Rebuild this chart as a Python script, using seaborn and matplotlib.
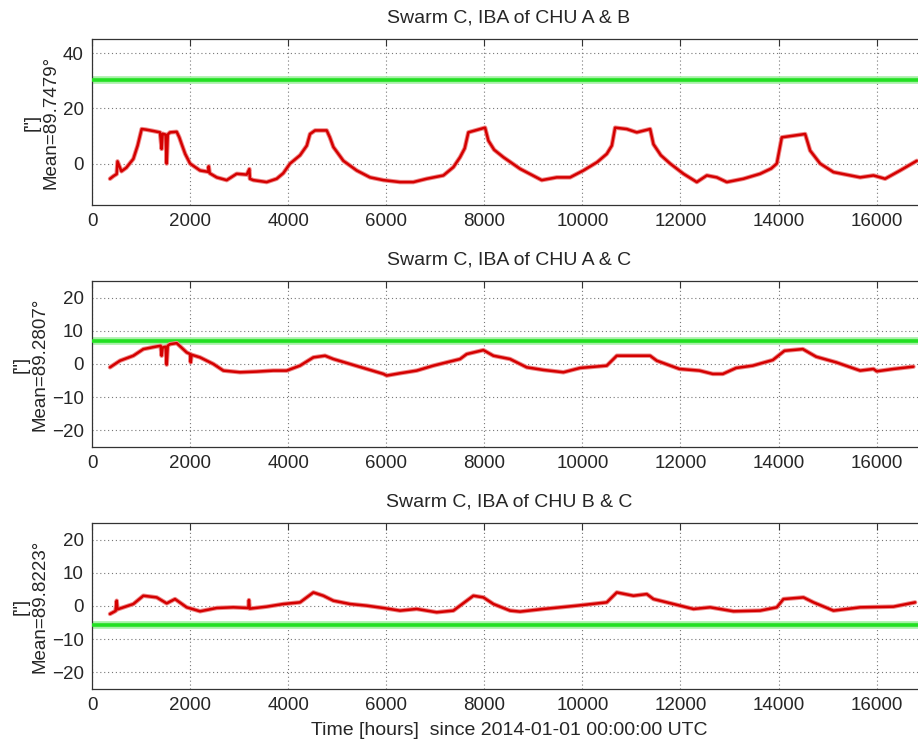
import numpy as np
import pandas as pd
import matplotlib
matplotlib.use("Agg")
import matplotlib.pyplot as plt
import seaborn as sns

# ---- data ----
hours_ab = [367, 440, 503, 520, 600, 700, 843, 930, 1013, 1100, 1250, 1387, 1420, 1440, 1500, 1523, 1545, 1590,
            1727, 1780, 1829, 1900, 2000, 2203, 2373, 2380, 2400, 2543, 2747, 2950, 3154, 3209, 3220, 3290, 3562,
            3766, 3900, 4038, 4242, 4380, 4446, 4548, 4786, 4850, 4922, 5126, 5398, 5670, 5942, 6281, 6553, 6825, 7165,
            7369, 7505, 7600, 7675, 8015, 8083, 8200, 8389, 8729, 9171, 9477, 9749, 10021, 10300, 10497, 10600, 10667, 10905,
            11109, 11381, 11449, 11600, 11789, 12061, 12333, 12537, 12741, 12945, 13284, 13624, 13850, 13964, 14066,
            14542, 14644, 14848, 15120, 15664, 15935, 16173, 16479, 16819]
iba_ab = [-5.5, -4.5, -3.8, 0.8, -2.8, -1.5, 1.7, 6.5, 12.5, 12.3, 11.8, 11.3, 5.3, 10.8, 10.5, 0.0, 10.5, 11.3,
          11.5, 9.5, 7.0, 3.5, 0.0, -2.5, -3.0, -1.0, -3.5, -5.0, -6.0, -3.7, -4.0, -2.0, -5.5, -6.0, -6.7,
          -5.5, -3.5, 0.0, 3.0, 6.5, 10.7, 12.0, 12.0, 9.5, 6.0, 1.0, -2.5, -5.0, -6.0, -6.7, -6.7, -5.5, -4.3,
          -1.3, 2.3, 5.5, 11.3, 13.0, 8.3, 5.0, 2.3, -1.9, -6.0, -5.0, -5.0, -2.5, 0.5, 3.5, 6.5, 13.0, 12.5,
          11.3, 12.5, 7.0, 3.0, 0.0, -3.7, -6.7, -4.3, -5.0, -6.7, -5.5, -3.7, -1.8, 0.0, 9.5,
          10.7, 4.7, 0.0, -3.1, -5.0, -4.3, -5.5, -2.5, 1.0]

hours_ac = [367, 571, 843, 1047, 1319, 1400, 1420, 1440, 1500, 1523, 1545, 1590, 1727, 1931, 2000, 2013, 2030,
            2203, 2475, 2679, 3018, 3358, 3698, 3970, 4242, 4514, 4752, 4922, 5262, 5602, 5942, 6010,
            6281, 6621, 6961, 7505, 7641, 7981, 8185, 8525, 8865, 9205, 9613, 9953, 10497, 10701,
            11381, 11517, 11979, 12387, 12659, 12864, 13135, 13475, 13883, 14121, 14495, 14767,
            15175, 15664, 15935, 16003, 16343, 16751]
iba_ac = [-1.0, 1.0, 2.5, 4.5, 5.3, 5.5, 2.5, 5.0, 5.2, -0.2, 5.5, 6.0, 6.3, 3.5, 3.0, 0.5, 2.8,
          2.0, 0.0, -2.0, -2.5, -2.3, -2.0, -2.0, -0.5, 2.0, 2.5, 1.5, 0.0, -1.5, -3.0, -3.5,
          -2.8, -2.0, -0.5, 1.5, 3.0, 4.2, 2.5, 1.5, -1.0, -1.8, -2.5, -1.2, -0.5, 2.5,
          2.5, 1.0, -1.5, -2.0, -3.0, -3.0, -1.2, -0.5, 1.2, 4.0, 4.5, 2.2,
          0.5, -2.0, -1.5, -2.2, -1.5, -0.8]

hours_bc = [367, 480, 503, 520, 843, 1047, 1319, 1523, 1693, 1931, 2203, 2543, 2883, 3188, 3200, 3215,
            3562, 3902, 4242, 4514, 4718, 4922, 5262, 5602, 5942, 6281, 6621, 7029, 7369, 7505,
            7777, 7981, 8185, 8525, 8729, 9205, 9885, 10497, 10701, 11041, 11313, 11449, 11721,
            12265, 12605, 13081, 13624, 13964, 14100, 14508, 14712, 15120, 15664, 16343, 16785]
iba_bc = [-2.4, -1.5, 1.6, -1.0, 0.6, 3.1, 2.6, 0.8, 2.1, -0.4, -1.6, -0.6, -0.4, -0.6, 1.8, -0.8,
          -0.2, 0.6, 1.1, 4.1, 3.1, 1.6, 0.6, 0.1, -0.6, -1.4, -0.9, -1.9, -1.4, 0.1,
          3.1, 2.6, 0.6, -1.4, -1.7, -0.9, 0.1, 1.1, 4.1, 3.1, 3.6, 2.1, 1.1,
          -0.9, -0.4, -1.6, -1.4, -0.4, 2.1, 2.6, 1.1, -1.4, -0.4, -0.2, 1.1]

titles = ["Swarm C, IBA of CHU A & B", "Swarm C, IBA of CHU A & C", "Swarm C, IBA of CHU B & C"]
means = ["Mean=89.7479\u00b0", "Mean=89.2807\u00b0", "Mean=89.8223\u00b0"]
ref_levels = [30.3, 7.0, -5.6]
ylims = [(-15, 45), (-25, 25), (-25, 25)]
yticks = [[0, 20, 40], [-20, -10, 0, 10, 20], [-20, -10, 0, 10, 20]]
xticks = [0, 2000, 4000, 6000, 8000, 10000, 12000, 14000, 16000]
xlabel = "Time [hours]  since 2014-01-01 00:00:00 UTC"

series = [(hours_ab, iba_ab), (hours_ac, iba_ac), (hours_bc, iba_bc)]

# ---- style ----
sns.set_theme(style="white")
plt.rcParams["font.family"] = ["Liberation Sans", "DejaVu Sans"]

fig = plt.figure(figsize=(9.18, 7.42), dpi=100)
W, H = 918.0, 742.0
left_px = 92
px_per_hour = 0.04904
xmax = 17000
width_px = xmax * px_per_hour
tops = [39.3, 281.3, 523.3]
heights = [165.7, 165.4, 165.4]

red = "#d40000"
green = "#22e022"

for i in range(3):
    t, hpx = tops[i], heights[i]
    ax = fig.add_axes([left_px / W, (H - t - hpx) / H, width_px / W, hpx / H])
    df = pd.DataFrame({"hours": series[i][0], "iba": series[i][1]})
    ax.axhline(ref_levels[i], color="#a8f0a8", lw=5.5, zorder=2)
    ax.axhline(ref_levels[i], color=green, lw=2.6, zorder=3)
    sns.lineplot(data=df, x="hours", y="iba", ax=ax, color="#ee8a8a", lw=3.2,
                 estimator=None, sort=False, zorder=4)
    sns.lineplot(data=df, x="hours", y="iba", ax=ax, color=red, lw=1.8,
                 estimator=None, sort=False, zorder=5)
    ax.set_xlim(0, xmax)
    ax.set_ylim(*ylims[i])
    ax.set_xticks(xticks)
    ax.set_yticks(yticks[i])
    ax.set_title(titles[i], fontsize=14, pad=12)
    ax.set_ylabel('["]\n' + means[i], fontsize=13.5, labelpad=2, linespacing=1.15)
    ax.set_xlabel(xlabel if i == 2 else "", fontsize=14, labelpad=6)
    ax.grid(True, linestyle=(0, (1, 2.5)), color="#777777", lw=0.8)
    ax.tick_params(axis="both", direction="in", labelsize=13.5, length=5, width=0.8,
                   top=True, right=True, color="#333333", pad=6)
    for s in ax.spines.values():
        s.set_color("#333333")
        s.set_linewidth(0.9)

fig.savefig("out.png", dpi=100, facecolor="white")
